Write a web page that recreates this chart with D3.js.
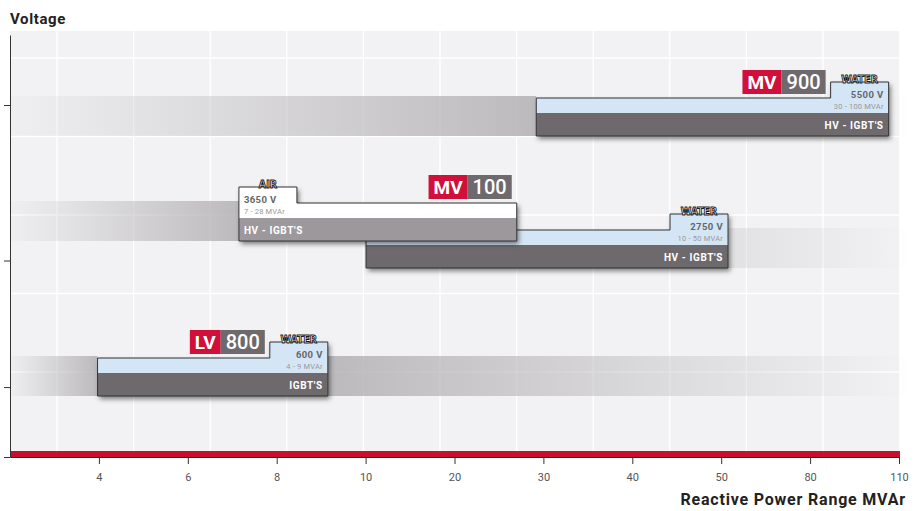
<!DOCTYPE html>
<html>
<head>
<meta charset="utf-8">
<script src="https://cdn.jsdelivr.net/npm/d3@7"></script>
<style>
  body { margin: 0; background: #fff; }
  text { font-family: Roboto, "Liberation Sans", sans-serif; }
</style>
</head>
<body>
<div id="chart"></div>
<script>
const svgWidth = 922;
const svgHeight = 511;

// x axis steps are uneven but evenly spaced on the page
const xSteps = [2, 4, 6, 8, 10, 20, 30, 40, 50, 80, 110];
const xLabels = [4, 6, 8, 10, 20, 30, 40, 50, 80, 110];
// voltage axis, ticks carry no labels
const ySteps = [0, 600, 2750, 3650, 5500, 6000, 6600];
const yTicks = [0, 750, 3000, 6000];

// one entry per bar, drawn in this order
const products = ["MV 900", "MV 100", "MV 100", "LV 800"];
const cooling = ["WATER", "WATER", "AIR", "WATER"];
const voltage = [5500, 2750, 3650, 600];
const mvarFrom = [30, 10, 7, 4];
const mvarTo = [100, 50, 28, 9];
const barFrom = [29.2, 10.05, 7.15, 3.97];
const barTo = [106.5, 52.3, 27.0, 9.15];
const tech = ["HV - IGBT'S", "HV - IGBT'S", "HV - IGBT'S", "IGBT'S"];
const showBadge = [true, false, true, true];
const fadeLeft = [true, false, true, true];
const fadeRight = [true, true, false, true];

const plot = { left: 10, right: 900, top: 31 };
const darkH = 23, lightH = 15, stepH = 16, stepW = 58;

const svg = d3.select('#chart')
    .append('svg')
    .attr('width', svgWidth)
    .attr('height', svgHeight);

const xPos = d3.scalePoint().domain(xSteps).range([10, 899]);
const x = d3.scaleLinear().domain(xSteps).range(xSteps.map(xPos));
const y = d3.scaleLinear().domain(ySteps).range([457, 396, 268, 241, 136, 105, 35]);

const defs = svg.append('defs');
const shadow = defs.append('filter').attr('id', 'shadow')
    .attr('x', '-10%').attr('y', '-30%').attr('width', '130%').attr('height', '180%');
shadow.append('feDropShadow')
    .attr('dx', 2).attr('dy', 3).attr('stdDeviation', 2.4)
    .attr('flood-color', '#000').attr('flood-opacity', 0.5);

const gLeft = defs.append('linearGradient').attr('id', 'fadeLeft');
gLeft.append('stop').attr('offset', 0).attr('stop-color', '#b3b0b3').attr('stop-opacity', 0.05);
gLeft.append('stop').attr('offset', 1).attr('stop-color', '#b3b0b3').attr('stop-opacity', 0.85);

const gRight = defs.append('linearGradient').attr('id', 'fadeRight')
    .attr('gradientUnits', 'userSpaceOnUse')
    .attr('x1', 330).attr('x2', 912).attr('y1', 0).attr('y2', 0);
gRight.append('stop').attr('offset', 0).attr('stop-color', '#b3b0b3').attr('stop-opacity', 0.85);
gRight.append('stop').attr('offset', 1).attr('stop-color', '#b3b0b3').attr('stop-opacity', 0.0);

// background and grid
svg.append('rect')
    .attr('x', plot.left).attr('y', plot.top)
    .attr('width', plot.right - plot.left).attr('height', y(0) - plot.top)
    .attr('fill', '#f2f2f4');

const grid = svg.append('g').attr('stroke', '#fff').attr('stroke-width', 1.3);
grid.selectAll('.gx')
    .data(d3.range(57, plot.right, 76.6))
    .join('line')
    .attr('x1', d => d).attr('x2', d => d)
    .attr('y1', plot.top).attr('y2', y(0));
grid.selectAll('.gy')
    .data(d3.range(58, y(0) - 8, 78.5))
    .join('line')
    .attr('x1', plot.left).attr('x2', plot.right)
    .attr('y1', d => d).attr('y2', d => d);

svg.append('rect')
    .attr('x', plot.left).attr('y', y(0) - 6)
    .attr('width', plot.right - plot.left).attr('height', 6)
    .attr('fill', '#c8102e');

const idx = d3.range(products.length);

// fading bands on either side of each bar
const bands = svg.append('g');
idx.forEach(i => {
    const yb = y(voltage[i]);
    const yt = yb - darkH - lightH - 2;
    if (fadeLeft[i]) {
        bands.append('rect')
            .attr('x', plot.left).attr('y', yt)
            .attr('width', x(barFrom[i]) - plot.left).attr('height', yb - yt)
            .attr('fill', 'url(#fadeLeft)');
    }
    if (fadeRight[i]) {
        bands.append('rect')
            .attr('x', x(barTo[i])).attr('y', yt)
            .attr('width', Math.max(0, 912 - x(barTo[i]))).attr('height', yb - yt)
            .attr('fill', 'url(#fadeRight)');
    }
});

// bars
idx.forEach(i => {
    const air = cooling[i] === 'AIR';
    const x0 = x(barFrom[i]), x1 = x(barTo[i]);
    const yb = y(voltage[i]);
    const yd = yb - darkH;
    const yt = yd - lightH;
    const ys = yt - stepH;
    const pts = air
        ? [[x0, ys], [x0 + stepW, ys], [x0 + stepW, yt], [x1, yt], [x1, yb], [x0, yb]]
        : [[x0, yt], [x1 - stepW, yt], [x1 - stepW, ys], [x1, ys], [x1, yb], [x0, yb]];
    const outline = d3.line()(pts) + 'Z';

    const g = svg.append('g');
    g.append('path').attr('d', outline)
        .attr('fill', air ? '#ffffff' : '#d4e6f6')
        .attr('filter', 'url(#shadow)');
    g.append('rect')
        .attr('x', x0).attr('y', yd).attr('width', x1 - x0).attr('height', darkH)
        .attr('fill', air ? '#9c989b' : '#6e696d');
    g.append('path').attr('d', outline)
        .attr('fill', 'none').attr('stroke', '#333').attr('stroke-width', 1);

    const tx = air ? x0 + 5 : x1 - 5;
    const anchor = air ? 'start' : 'end';
    g.append('text').attr('x', tx).attr('y', ys + 16)
        .attr('text-anchor', anchor).attr('font-size', 9.5).attr('font-weight', 'bold')
        .attr('letter-spacing', 0.4)
        .attr('fill', '#666').text(voltage[i] + ' V');
    g.append('text').attr('x', tx).attr('y', ys + 27)
        .attr('text-anchor', anchor).attr('font-size', 7.5)
        .attr('letter-spacing', 0.2)
        .attr('fill', '#999').text(mvarFrom[i] + ' - ' + mvarTo[i] + ' MVAr');
    g.append('text').attr('x', tx).attr('y', yd + 15.5)
        .attr('text-anchor', anchor).attr('font-size', 10).attr('font-weight', 'bold')
        .attr('letter-spacing', 0.6)
        .attr('fill', '#fff').text(tech[i]);

    const sc = air ? x0 + stepW / 2 : x1 - stepW / 2;
    g.append('text').attr('x', sc).attr('y', ys + 0.5)
        .attr('text-anchor', 'middle')
        .style('font-family', '"Liberation Sans Narrow", "DejaVu Sans Condensed", sans-serif')
        .attr('font-size', 10.5).attr('font-weight', 'bold')
        .attr('fill', '#ffffff').attr('stroke', '#1a1a1a').attr('stroke-width', 0.9)
        .text(cooling[i]);

    if (showBadge[i]) {
        const [kind, num] = products[i].split(' ');
        const bx = (air ? x1 : x1 - stepW) - 5;
        const by = yt - 4;
        const bg = svg.append('g');
        const red = bg.append('rect').attr('fill', '#d0103a');
        const grey = bg.append('rect').attr('fill', '#6e696d');
        const t1 = bg.append('text').attr('font-size', 19).attr('font-weight', 'bold')
            .attr('fill', '#fff').text(kind);
        const t2 = bg.append('text').attr('font-size', 20).attr('font-weight', 500)
            .attr('fill', '#fff').text(num);
        const w1 = t1.node().getComputedTextLength() + 10;
        const w2 = t2.node().getComputedTextLength() + 10;
        const left = bx - w1 - w2;
        red.attr('x', left).attr('y', by - 24).attr('width', w1).attr('height', 24);
        grey.attr('x', left + w1).attr('y', by - 24).attr('width', w2).attr('height', 24);
        t1.attr('x', left + 5).attr('y', by - 5);
        t2.attr('x', left + w1 + 5).attr('y', by - 5);
    }
});

// axes
const xAxis = svg.append('g')
    .attr('transform', `translate(0,${y(0)})`)
    .call(d3.axisBottom(x).tickValues(xLabels).tickSize(7).tickSizeOuter(0).tickPadding(9));
xAxis.select('.domain').attr('stroke', '#222');
xAxis.selectAll('.tick line').attr('stroke', '#333');
xAxis.selectAll('text').attr('font-size', 11).attr('fill', '#555')
    .style('font-family', 'Roboto, sans-serif');

const yAxis = svg.append('g')
    .attr('transform', `translate(${plot.left},0)`)
    .call(d3.axisLeft(y).tickValues(yTicks).tickSize(6).tickSizeOuter(0).tickFormat(''));
yAxis.select('.domain').attr('stroke', '#333');
yAxis.selectAll('.tick line').attr('stroke', '#333');

svg.append('text')
    .attr('x', plot.left).attr('y', 24)
    .attr('font-size', 15).attr('font-weight', 'bold').attr('fill', '#222')
    .attr('letter-spacing', 0.6)
    .text('Voltage');

svg.append('text')
    .attr('x', 906).attr('y', 505)
    .attr('text-anchor', 'end')
    .attr('font-size', 16).attr('font-weight', 'bold').attr('fill', '#222')
    .attr('letter-spacing', 0.8)
    .text('Reactive Power Range MVAr');
</script>
</body>
</html>
